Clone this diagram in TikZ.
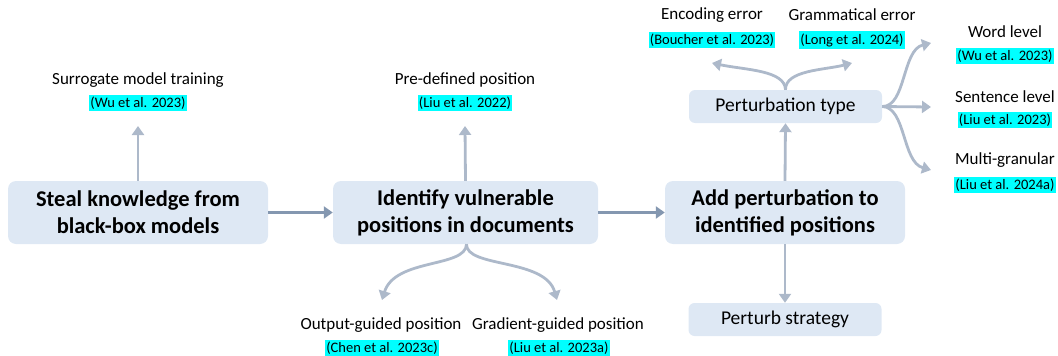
\documentclass[tikz,border=0pt]{standalone}
\usepackage{fontspec}
\setmainfont{Carlito}
\usetikzlibrary{arrows.meta}
\definecolor{boxfill}{HTML}{DEE8F4}
\definecolor{arr}{HTML}{ADB9CA}
\definecolor{arrdark}{HTML}{8497B0}
\definecolor{citebg}{HTML}{00FFFF}
\tikzset{
  mainbox/.style={fill=boxfill, rounded corners=8pt, minimum width=260pt, minimum height=63pt, align=center, font=\fontsize{22.5}{27}\selectfont\bfseries, inner sep=0pt},
  subbox/.style={fill=boxfill, rounded corners=6pt, minimum width=193pt, minimum height=33pt, font=\fontsize{19.5}{22}\selectfont, inner sep=0pt},
  lbl/.style={font=\fontsize{17}{20}\selectfont, inner sep=1pt},
  cite/.style={fill=citebg, font=\fontsize{14.5}{16}\selectfont, inner xsep=1pt, inner ysep=2pt},
  conn/.style={draw=arr, line width=2.8pt, -{Triangle[length=9pt,width=12pt]}},
  flow/.style={draw=arrdark, line width=2.8pt, -{Triangle[length=9pt,width=12pt]}}
}
\begin{document}
\begin{tikzpicture}[x=1pt,y=-1pt]
\useasboundingbox (0,0) rectangle (1058,356);
% main boxes
\node[mainbox] (b1) at (138,212.5) {Steal knowledge from\\black-box models};
\node[mainbox, minimum width=265pt] (b2) at (465.5,212.5) {Identify vulnerable\\positions in documents};
\node[mainbox, minimum width=240pt] (b3) at (785,212.5) {Add perturbation to\\identified positions};
\node[subbox] (pt) at (785.5,106.5) {Perturbation type};
\node[subbox] (ps) at (785,319.5) {Perturb strategy};
% labels
\node[lbl] (l1) at (138,80) {Surrogate model training};
\node[cite] (c1) at (138,103) {(Wu et al. 2023)};
\coordinate (t1) at (138,126);
\node[lbl] (l2) at (465,80) {Pre-defined position};
\node[cite] (c2) at (465,103) {(Liu et al. 2022)};
\coordinate (t2) at (465,126);
\node[lbl] (l3) at (381,325) {Output-guided position};
\node[cite] (c3) at (382,348) {(Chen et al. 2023c)};
\coordinate (t3) at (382,300);
\node[lbl] (l4) at (558,325) {Gradient-guided position};
\node[cite] (c4) at (559,348) {(Liu et al. 2023a)};
\coordinate (t4) at (557,300);
\node[lbl] (l5) at (712,15) {Encoding error};
\node[cite] (c5) at (712,40) {(Boucher et al. 2023)};
\coordinate (t5) at (712,63);
\node[lbl] (l6) at (852,15) {Grammatical error};
\node[cite] (c6) at (852,40) {(Long et al. 2024)};
\coordinate (t6) at (852,63);
\node[lbl] (l7) at (1005,32) {Word level};
\node[cite] (c7) at (1005,56) {(Wu et al. 2023)};
\coordinate (t7) at (931,43);
\node[lbl] (l8) at (1005,97) {Sentence level};
\node[cite] (c8) at (1005,120) {(Liu et al. 2023)};
\coordinate (t8) at (931,107);
\node[lbl] (l9) at (1005,160) {Multi-granular};
\node[cite] (c9) at (1005,185) {(Liu et al. 2024a)};
\coordinate (t9) at (931,170);
% flow arrows
\draw[flow] (b1.east) -- (b2.west);
\draw[flow] (b2.east) -- (b3.west);
% branches
\draw[conn] (b1.north) -- (t1);
\draw[conn] (b2.north) -- (t2);
\draw[conn] (b3.north) -- (pt.south);
\draw[conn] (b3.south) -- (ps.north);
\draw[conn] ([xshift=1pt]b2.south) .. controls (466,268) and (395,258) .. (t3);
\draw[conn] ([xshift=1pt]b2.south) .. controls (466,268) and (545,258) .. (t4);
\draw[conn] (pt.north) .. controls (785,70) and (745,70) .. (t5);
\draw[conn] (pt.north) .. controls (785,70) and (825,70) .. (t6);
\draw[conn] (pt.east) .. controls (906,107) and (902,50) .. (t7);
\draw[conn] (pt.east) -- (t8);
\draw[conn] (pt.east) .. controls (906,107) and (902,162) .. (t9);
\end{tikzpicture}
\end{document}
